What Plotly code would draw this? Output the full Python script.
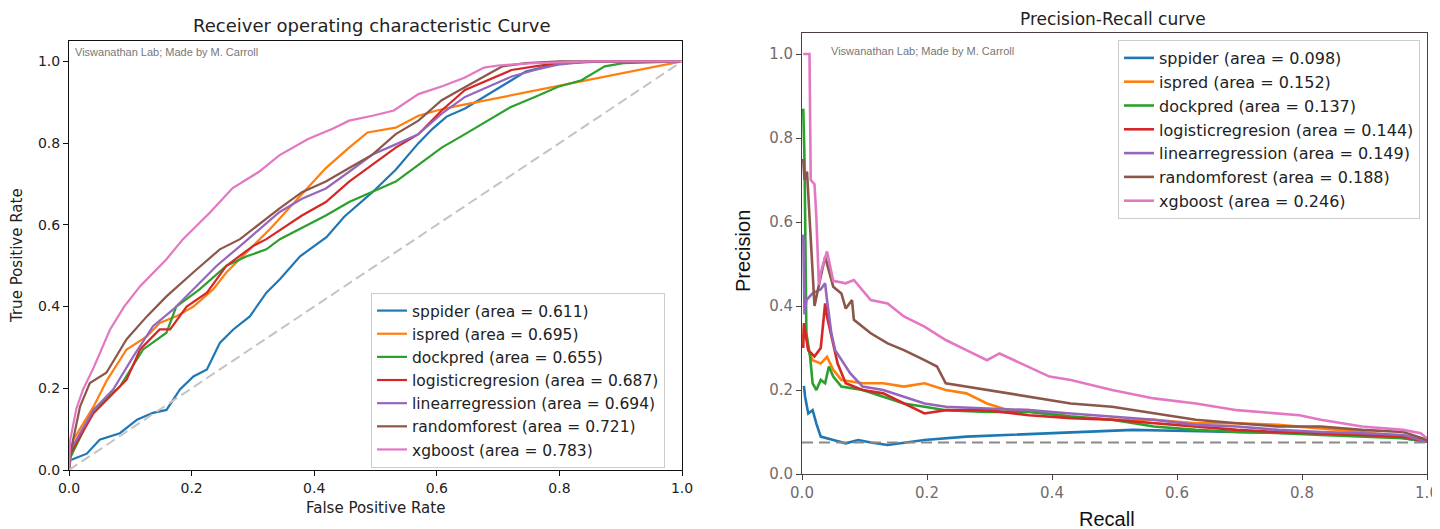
import plotly.graph_objects as go

# The page body adds an 8px offset; figure size and positions compensate for it.
OFF = 8
W, H = 1440 - OFF, 529 - OFF

# ---------------- data ----------------
models = ["sppider", "ispred", "dockpred", "logisticregresion",
          "linearregression", "randomforest", "xgboost"]
colors = ["#1f77b4", "#ff7f0e", "#2ca02c", "#d62728", "#9467bd", "#8c564b", "#e377c2"]
roc_auc = ["0.611", "0.695", "0.655", "0.687", "0.694", "0.721", "0.783"]
pr_auc = ["0.098", "0.152", "0.137", "0.144", "0.149", "0.188", "0.246"]

# ROC curves (false positive rate, true positive rate)
fpr_sppider = [0, 0.002, 0.029, 0.05, 0.083, 0.111, 0.137, 0.159, 0.181, 0.203, 0.225, 0.246, 0.268,
               0.295, 0.322, 0.344, 0.377, 0.42, 0.449, 0.495, 0.533, 0.57, 0.593, 0.616, 0.646,
               0.684, 0.722, 0.745, 0.798, 0.874, 1.0]
tpr_sppider = [0, 0.024, 0.04, 0.074, 0.09, 0.123, 0.14, 0.147, 0.197, 0.229, 0.246, 0.311, 0.344,
               0.376, 0.434, 0.467, 0.523, 0.57, 0.62, 0.68, 0.735, 0.80, 0.835, 0.865, 0.885,
               0.92, 0.954, 0.975, 0.995, 1.0, 1.0]

fpr_ispred = [0, 0.007, 0.04, 0.062, 0.094, 0.127, 0.148, 0.175, 0.203, 0.235, 0.257, 0.29, 0.328,
              0.373, 0.419, 0.457, 0.487, 0.533, 0.57, 0.6, 0.63, 1.0]
tpr_ispred = [0, 0.074, 0.155, 0.22, 0.295, 0.327, 0.36, 0.376, 0.40, 0.442, 0.484, 0.533, 0.59,
              0.664, 0.739, 0.789, 0.826, 0.838, 0.867, 0.88, 0.89, 1.0]

fpr_dockpred = [0, 0.002, 0.04, 0.083, 0.121, 0.159, 0.175, 0.213, 0.257, 0.29, 0.322, 0.344, 0.419,
                0.457, 0.495, 0.533, 0.57, 0.608, 0.646, 0.692, 0.72, 0.76, 0.798, 0.836, 0.874,
                0.904, 1.0]
tpr_dockpred = [0, 0.03, 0.147, 0.204, 0.295, 0.336, 0.40, 0.442, 0.5, 0.523, 0.54, 0.565, 0.623,
                0.656, 0.681, 0.706, 0.747, 0.789, 0.822, 0.863, 0.888, 0.913, 0.938, 0.954, 0.988,
                0.996, 1.0]

fpr_logistic = [0, 0.002, 0.04, 0.067, 0.094, 0.116, 0.148, 0.165, 0.192, 0.225, 0.257, 0.3, 0.322,
                0.38, 0.419, 0.457, 0.495, 0.533, 0.57, 0.608, 0.646, 0.684, 0.722, 0.76, 0.798,
                0.85, 1.0]
tpr_logistic = [0, 0.04, 0.139, 0.18, 0.221, 0.295, 0.344, 0.344, 0.40, 0.434, 0.5, 0.548, 0.565,
                0.623, 0.656, 0.706, 0.747, 0.789, 0.822, 0.88, 0.93, 0.954, 0.979, 0.988, 0.996,
                1.0, 1.0]

fpr_linear = [0, 0.002, 0.04, 0.072, 0.105, 0.137, 0.17, 0.203, 0.241, 0.279, 0.343, 0.38, 0.419,
              0.457, 0.495, 0.533, 0.57, 0.608, 0.646, 0.684, 0.722, 0.76, 0.798, 0.85, 1.0]
tpr_linear = [0, 0.048, 0.147, 0.197, 0.278, 0.352, 0.393, 0.442, 0.5, 0.548, 0.631, 0.664, 0.689,
              0.73, 0.772, 0.797, 0.822, 0.872, 0.913, 0.938, 0.963, 0.979, 0.992, 1.0, 1.0]

fpr_forest = [0, 0.002, 0.018, 0.034, 0.061, 0.094, 0.127, 0.159, 0.203, 0.246, 0.279, 0.313, 0.343,
              0.38, 0.419, 0.457, 0.495, 0.533, 0.57, 0.608, 0.646, 0.677, 0.707, 0.745, 0.8, 1.0]
tpr_forest = [0, 0.04, 0.155, 0.213, 0.238, 0.32, 0.376, 0.425, 0.484, 0.54, 0.565, 0.606, 0.64,
              0.68, 0.706, 0.739, 0.772, 0.822, 0.855, 0.905, 0.938, 0.963, 0.988, 0.996, 1.0, 1.0]

fpr_xgboost = [0, 0.002, 0.012, 0.023, 0.04, 0.067, 0.09, 0.116, 0.159, 0.186, 0.23, 0.267, 0.31,
               0.343, 0.39, 0.43, 0.457, 0.495, 0.53, 0.57, 0.61, 0.645, 0.677, 0.70, 0.75, 0.85, 1.0]
tpr_xgboost = [0, 0.074, 0.15, 0.197, 0.25, 0.344, 0.40, 0.45, 0.516, 0.565, 0.63, 0.69, 0.73,
               0.77, 0.81, 0.835, 0.855, 0.867, 0.88, 0.92, 0.94, 0.96, 0.985, 0.99, 0.995, 1.0, 1.0]

# Precision-recall curves (recall, precision)
rec_sppider = [0.003, 0.005, 0.01, 0.017, 0.023, 0.03, 0.05, 0.07, 0.09, 0.11, 0.137, 0.163, 0.196,
               0.263, 0.33, 0.396, 0.463, 0.53, 0.596, 0.696, 0.83, 0.93, 1.0]
prec_sppider = [0.21, 0.184, 0.144, 0.152, 0.12, 0.089, 0.081, 0.073, 0.081, 0.075, 0.069, 0.075, 0.081,
                0.089, 0.093, 0.097, 0.1, 0.105, 0.103, 0.1, 0.097, 0.093, 0.077]

rec_ispred = [0.002, 0.004, 0.01, 0.017, 0.03, 0.04, 0.05, 0.063, 0.097, 0.13, 0.163, 0.196, 0.23,
              0.263, 0.296, 0.33, 0.363, 0.43, 0.496, 0.563, 0.63, 0.696, 0.762, 0.83, 0.896, 0.962, 1.0]
prec_ispred = [0.32, 0.359, 0.295, 0.271, 0.263, 0.279, 0.248, 0.224, 0.216, 0.216, 0.208, 0.216, 0.2,
               0.192, 0.168, 0.152, 0.152, 0.137, 0.129, 0.129, 0.121, 0.121, 0.117, 0.109, 0.1, 0.089, 0.077]

rec_dockpred = [0.002, 0.004, 0.007, 0.013, 0.017, 0.023, 0.03, 0.037, 0.043, 0.05, 0.063, 0.097,
                0.13, 0.163, 0.196, 0.23, 0.296, 0.363, 0.43, 0.496, 0.563, 0.63, 0.696, 0.762, 0.83,
                0.896, 0.962, 1.0]
prec_dockpred = [0.87, 0.75, 0.335, 0.279, 0.216, 0.2, 0.224, 0.216, 0.256, 0.232, 0.208, 0.2,
                 0.184, 0.168, 0.16, 0.152, 0.148, 0.148, 0.137, 0.129, 0.113, 0.105, 0.1, 0.098, 0.093,
                 0.089, 0.085, 0.077]

rec_logistic = [0.002, 0.003, 0.01, 0.02, 0.03, 0.037, 0.04, 0.047, 0.057, 0.07, 0.097, 0.13, 0.163,
                0.196, 0.23, 0.296, 0.363, 0.43, 0.496, 0.563, 0.63, 0.696, 0.762, 0.83, 0.896, 0.962, 1.0]
prec_logistic = [0.3, 0.359, 0.295, 0.28, 0.3, 0.406, 0.375, 0.327, 0.263, 0.216, 0.2, 0.192, 0.168,
                 0.144, 0.152, 0.152, 0.14, 0.133, 0.129, 0.121, 0.113, 0.105, 0.1, 0.097, 0.093, 0.089, 0.077]

rec_linear = [0.002, 0.004, 0.007, 0.017, 0.03, 0.037, 0.04, 0.047, 0.053, 0.063, 0.077, 0.097, 0.13,
              0.163, 0.196, 0.23, 0.296, 0.363, 0.43, 0.496, 0.563, 0.63, 0.696, 0.762, 0.83, 0.896,
              0.962, 1.0]
prec_linear = [0.57, 0.38, 0.414, 0.43, 0.44, 0.454, 0.414, 0.335, 0.295, 0.271, 0.24, 0.208, 0.2,
               0.184, 0.168, 0.16, 0.156, 0.152, 0.144, 0.137, 0.129, 0.117, 0.113, 0.105, 0.1, 0.097,
               0.093, 0.077]

rec_forest = [0.002, 0.004, 0.008, 0.012, 0.02, 0.03, 0.037, 0.05, 0.063, 0.07, 0.08, 0.083, 0.11,
              0.137, 0.163, 0.196, 0.216, 0.23, 0.263, 0.296, 0.363, 0.43, 0.496, 0.563, 0.63, 0.696,
              0.762, 0.83, 0.896, 0.962, 1.0]
prec_forest = [0.75, 0.70, 0.72, 0.62, 0.40, 0.47, 0.517, 0.446, 0.43, 0.394, 0.414, 0.367, 0.335,
               0.311, 0.295, 0.271, 0.256, 0.216, 0.208, 0.2, 0.184, 0.168, 0.16, 0.144, 0.129, 0.121,
               0.113, 0.113, 0.105, 0.1, 0.081]

rec_xgboost = [0.002, 0.012, 0.014, 0.02, 0.023, 0.027, 0.03, 0.04, 0.05, 0.07, 0.083, 0.11, 0.137,
               0.163, 0.196, 0.23, 0.263, 0.296, 0.316, 0.35, 0.396, 0.43, 0.496, 0.563, 0.63, 0.696,
               0.762, 0.796, 0.83, 0.896, 0.962, 0.99, 1.0]
prec_xgboost = [1.0, 1.0, 0.70, 0.69, 0.61, 0.45, 0.48, 0.53, 0.46, 0.454, 0.462, 0.414, 0.406,
                0.375, 0.351, 0.319, 0.295, 0.271, 0.287, 0.263, 0.232, 0.224, 0.2, 0.18, 0.168, 0.152,
                0.144, 0.14, 0.129, 0.113, 0.105, 0.097, 0.085]

roc_x = [fpr_sppider, fpr_ispred, fpr_dockpred, fpr_logistic, fpr_linear, fpr_forest, fpr_xgboost]
roc_y = [tpr_sppider, tpr_ispred, tpr_dockpred, tpr_logistic, tpr_linear, tpr_forest, tpr_xgboost]
pr_x = [rec_sppider, rec_ispred, rec_dockpred, rec_logistic, rec_linear, rec_forest, rec_xgboost]
pr_y = [prec_sppider, prec_ispred, prec_dockpred, prec_logistic, prec_linear, prec_forest, prec_xgboost]

chance_x = [0, 1]
chance_y = [0, 1]
baseline_x = [0, 1]
baseline_y = [0.075, 0.075]

tick_vals = [0, 0.2, 0.4, 0.6, 0.8, 1.0]
tick_text = ["0.0", "0.2", "0.4", "0.6", "0.8", "1.0"]

# ---------------- figure ----------------
fig = go.Figure()

for i, m in enumerate(models):
    fig.add_trace(go.Scatter(
        x=roc_x[i], y=roc_y[i], mode="lines", xaxis="x", yaxis="y",
        name=f"{m} (area = {roc_auc[i]})", legend="legend",
        line=dict(color=colors[i], width=2.2)))
fig.add_trace(go.Scatter(x=chance_x, y=chance_y, mode="lines", xaxis="x", yaxis="y",
                         showlegend=False, line=dict(color="#c4c4c4", width=2, dash="10px,5px")))

for i, m in enumerate(models):
    fig.add_trace(go.Scatter(
        x=pr_x[i], y=pr_y[i], mode="lines", xaxis="x2", yaxis="y2",
        name=f"{m} (area = {pr_auc[i]})", legend="legend2",
        line=dict(color=colors[i], width=2.6)))
fig.add_trace(go.Scatter(x=baseline_x, y=baseline_y, mode="lines", xaxis="x2", yaxis="y2",
                         showlegend=False, line=dict(color="#8a8a8a", width=2, dash="11px,6px")))

def px_x(p):
    return (p - OFF) / W

def px_y(p):
    return 1 - (p - OFF) / H

axis_common = dict(range=[0, 1], tickvals=tick_vals, ticktext=tick_text, showgrid=False,
                   zeroline=False, showline=True, mirror=True, ticks="outside", ticklen=5,
                   automargin=False, fixedrange=True)

left_font = dict(family="DejaVu Sans", size=14, color="#222222")
right_font = dict(family="DejaVu Sans", size=15, color="#766a6a")

fig.update_layout(
    width=W, height=H, margin=dict(l=0, r=0, t=0, b=0),
    paper_bgcolor="white", plot_bgcolor="white",
    font=dict(family="DejaVu Sans", size=14, color="#222222"),
    xaxis=dict(domain=[px_x(69), px_x(682)], anchor="y", linecolor="#111111", tickcolor="#111111",
               tickfont=left_font, **axis_common),
    yaxis=dict(domain=[px_y(470), px_y(41)], anchor="x", linecolor="#111111", tickcolor="#111111",
               tickfont=left_font, **{**axis_common, "range": [0, 1.05]}),
    xaxis2=dict(domain=[px_x(802), px_x(1427)], anchor="y2", linecolor="#4e3f3f", tickcolor="#4e3f3f",
                tickfont=right_font, **axis_common),
    yaxis2=dict(domain=[px_y(474), px_y(33)], anchor="x2", linecolor="#4e3f3f", tickcolor="#4e3f3f",
                tickfont=right_font, **{**axis_common, "range": [0, 1.05]}),
    legend=dict(x=px_x(665), xanchor="right", y=px_y(293), yanchor="top",
                bgcolor="rgba(255,255,255,0.85)", bordercolor="#cccccc", borderwidth=1,
                font=dict(family="DejaVu Sans", size=15.5, color="#222222")),
    legend2=dict(x=px_x(1420), xanchor="right", y=px_y(40), yanchor="top",
                 bgcolor="rgba(255,255,255,0.85)", bordercolor="#cccccc", borderwidth=1,
                 font=dict(family="DejaVu Sans", size=16, color="#222222")),
)

def note(text, x, y, size, family="DejaVu Sans", color="#222222", xanchor="center", angle=0):
    fig.add_annotation(text=text, x=px_x(x), y=px_y(y), xref="paper", yref="paper",
                       showarrow=False, xanchor=xanchor, yanchor="middle", textangle=angle,
                       font=dict(family=family, size=size, color=color))

note("Receiver operating characteristic Curve", 372, 25, 18)
note("Precision-Recall curve", 1113, 19, 17)
note("False Positive Rate", 375, 508, 15)
note("True Positive Rate", 17, 256, 15, angle=-90)
note("Precision", 743, 251, 20, family="Liberation Sans", color="#111111", angle=-90)
note("Recall", 1107, 519, 20, family="Liberation Sans", color="#111111")
note("Viswanathan Lab; Made by M. Carroll", 73, 52, 11, family="Liberation Sans",
     color="#777777", xanchor="left")
note("Viswanathan Lab; Made by M. Carroll", 829, 51, 11, family="Liberation Sans",
     color="#777777", xanchor="left")

fig.write_html("out.html")
